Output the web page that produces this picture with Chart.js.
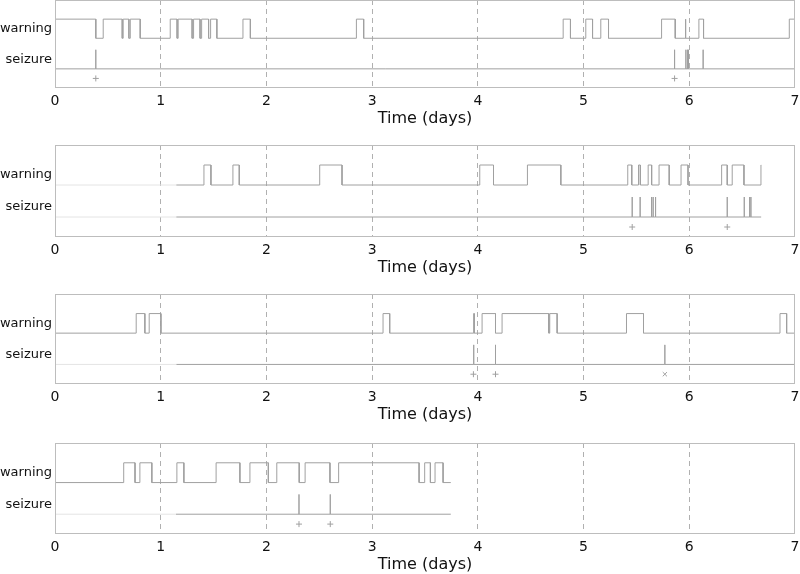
<!DOCTYPE html>
<html>
<head>
<meta charset="utf-8">
<script src="https://cdn.jsdelivr.net/npm/chart.js@4.4.4/dist/chart.umd.min.js"></script>
<style>
  html, body { margin: 0; padding: 0; background: #fff; }
  #quadro { position: relative; width: 800px; height: 574px; overflow: hidden; }
  .painel { position: absolute; left: 0; width: 800px; }
</style>
</head>
<body>
<div id="quadro">
  <div class="painel" id="painel1"><canvas id="g1"></canvas></div>
  <div class="painel" id="painel2"><canvas id="g2"></canvas></div>
  <div class="painel" id="painel3"><canvas id="g3"></canvas></div>
  <div class="painel" id="painel4"><canvas id="g4"></canvas></div>
</div>
<script>
/* ── Dados (dias) ── */
const DIAS_MIN = 0;
const DIAS_MAX = 7;
const ROTULOS_Y = ['seizure', 'warning'];
const TITULO_X = 'Time (days)';

/* níveis em y de cada linha */
const NIVEL_CRISE = 0;
const NIVEL_PICO = 1;
const NIVEL_AVISO_BAIXO = 1.6;
const NIVEL_AVISO_ALTO = 2.6;
const NIVEL_MARCA = -0.5;
const TICKS_Y = [0.5, 2.1];

/* painel 1 */
const p1Inicio = 0;
const p1Fim = 7;
const p1Aviso = [[0, 0.386], [0.456, 0.636], [0.645, 0.699], [0.712, 0.806], [1.090, 1.155], [1.165, 1.297],
                 [1.311, 1.372], [1.387, 1.453], [1.472, 1.531], [1.778, 1.848], [2.851, 2.920], [4.807, 4.876],
                 [5.021, 5.085], [5.163, 5.236], [5.738, 5.867], [5.961, 5.968], [6.091, 6.135], [6.946, 7]];
const p1Crises = [0.386, 5.861, 5.968, 5.983, 5.992, 6.131];
const p1Marcas = [0.386, 5.861];

/* painel 2 */
const p2Inicio = 1.147;
const p2Fim = 6.68;
const p2Aviso = [[1.409, 1.475], [1.683, 1.743], [2.504, 2.715], [4.018, 4.148], [4.469, 4.785], [5.418, 5.456],
                 [5.520, 5.537], [5.611, 5.644], [5.714, 5.810], [5.922, 5.988], [6.306, 6.359], [6.406, 6.517],
                 [6.678, 6.68]];
const p2Crises = [5.460, 5.535, 5.643, 5.658, 5.681, 6.359, 6.520, 6.571, 6.583];
const p2Marcas = [5.460, 6.359];

/* painel 3 */
const p3Inicio = 1.147;
const p3Fim = 7;
const p3AvisoInicio = 0;
const p3Aviso = [[0.768, 0.850], [0.891, 1.002], [3.103, 3.166], [3.961, 3.966], [4.040, 4.167], [4.229, 4.671],
                 [4.680, 4.750], [5.406, 5.567], [6.858, 6.921]];
const p3Crises = [3.961, 4.167, 5.769];
const p3Marcas = [3.958, 4.167];
const p3MarcasX = [5.769];

/* painel 4 */
const p4Inicio = 1.144;
const p4Fim = 3.744;
const p4AvisoInicio = 0;
const p4Aviso = [[0.650, 0.757], [0.803, 0.916], [1.153, 1.219], [1.524, 1.749], [1.844, 2.018], [2.098, 2.310],
                 [2.366, 2.601], [2.683, 3.444], [3.497, 3.551], [3.595, 3.671]];
const p4Crises = [2.308, 2.604];
const p4Marcas = [2.308, 2.604];

/* ── Aparência ── */
const COR_LINHA = '#a0a0a0';
const COR_FRACA = '#e4e4e4';
const COR_MOLDURA = '#bdbdbd';
const COR_GRADE = '#b0b0b0';
const COR_TEXTO = '#111';
const FONTE = "'DejaVu Sans', Verdana, sans-serif";

/* ── Monta os pontos da linha de aviso (degraus) ── */
function pontosAviso(intervalos, ini, fim) {
  const pts = [];
  if (!intervalos.length || intervalos[0][0] > ini) pts.push({ x: ini, y: NIVEL_AVISO_BAIXO });
  intervalos.forEach(function (iv) {
    if (iv[0] > ini) pts.push({ x: iv[0], y: NIVEL_AVISO_BAIXO });
    pts.push({ x: iv[0], y: NIVEL_AVISO_ALTO });
    pts.push({ x: iv[1], y: NIVEL_AVISO_ALTO });
    if (iv[1] < fim) pts.push({ x: iv[1], y: NIVEL_AVISO_BAIXO });
  });
  if (pts[pts.length - 1].x < fim) pts.push({ x: fim, y: NIVEL_AVISO_BAIXO });
  return pts;
}

/* ── Linha de base das crises com os traços verticais ── */
function pontosCrise(crises, ini, fim) {
  const pts = [{ x: ini, y: NIVEL_CRISE }];
  crises.forEach(function (t) {
    pts.push({ x: t, y: NIVEL_CRISE }, { x: t, y: NIVEL_PICO }, { x: t, y: NIVEL_CRISE });
  });
  pts.push({ x: fim, y: NIVEL_CRISE });
  return pts;
}

function linha(dados, cor) {
  return { data: dados, borderColor: cor, borderWidth: 1, pointRadius: 0, tension: 0, fill: false };
}

function marcas(xs, estilo) {
  return {
    type: 'scatter',
    data: xs.map(function (t) { return { x: t, y: NIVEL_MARCA }; }),
    pointStyle: estilo, pointRadius: 3, borderWidth: 1,
    borderColor: COR_LINHA, backgroundColor: COR_LINHA, showLine: false
  };
}

/* moldura em volta da área do gráfico */
const moldura = {
  id: 'moldura',
  afterDraw: function (chart) {
    const a = chart.chartArea;
    const ctx = chart.ctx;
    ctx.save();
    ctx.strokeStyle = COR_MOLDURA;
    ctx.lineWidth = 1;
    ctx.strokeRect(Math.round(a.left) + 0.5, Math.round(a.top) + 0.5,
                   Math.round(a.right - a.left) - 1, Math.round(a.bottom - a.top) - 1);
    ctx.restore();
  }
};

function criarPainel(idCanvas, idDiv, topo, padTopo, alturaPlot, datasets) {
  const ALT_EIXO = 42;
  const div = document.getElementById(idDiv);
  div.style.top = topo + 'px';
  const canvas = document.getElementById(idCanvas);
  canvas.width = 800;
  canvas.height = padTopo + alturaPlot + ALT_EIXO;

  return new Chart(canvas.getContext('2d'), {
    type: 'line',
    data: { datasets: datasets },
    plugins: [moldura],
    options: {
      responsive: false,
      animation: false,
      layout: { autoPadding: false, padding: { top: padTopo, right: 5, bottom: 0, left: 0 } },
      plugins: { legend: { display: false }, tooltip: { enabled: false } },
      scales: {
        x: {
          type: 'linear', min: DIAS_MIN, max: DIAS_MAX,
          afterFit: function (s) { s.height = ALT_EIXO; s.paddingLeft = 0; s.paddingRight = 0; },
          border: { display: false, dash: [5, 4] },
          grid: {
            drawTicks: false,
            color: function (c) {
              const v = c.tick ? c.tick.value : null;
              return (v === DIAS_MIN || v === DIAS_MAX) ? 'rgba(0,0,0,0)' : COR_GRADE;
            }
          },
          ticks: { stepSize: 1, padding: 5, color: COR_TEXTO, font: { family: FONTE, size: 14 }, maxRotation: 0 },
          title: { display: true, text: TITULO_X, color: COR_TEXTO, font: { family: FONTE, size: 16 }, padding: { top: 0, bottom: 2 } }
        },
        y: {
          min: -1, max: 3.6,
          afterFit: function (s) { s.width = 55; s.paddingTop = 0; s.paddingBottom = 0; },
          afterBuildTicks: function (s) { s.ticks = TICKS_Y.map(function (v) { return { value: v }; }); },
          border: { display: false },
          grid: { display: false, drawTicks: false },
          ticks: {
            padding: 3, color: COR_TEXTO, font: { family: FONTE, size: 13 },
            callback: function (v) { return ROTULOS_Y[TICKS_Y.indexOf(v)]; }
          }
        }
      }
    }
  });
}

/* painel 1 */
criarPainel('g1', 'painel1', 0, 0, 88, [
  linha(pontosAviso(p1Aviso, p1Inicio, p1Fim), COR_LINHA),
  linha(pontosCrise(p1Crises, p1Inicio, p1Fim), COR_LINHA),
  marcas(p1Marcas, 'cross')
]);

/* painel 2 */
criarPainel('g2', 'painel2', 140, 5, 92, [
  linha([{ x: 0, y: NIVEL_AVISO_BAIXO }, { x: p2Inicio, y: NIVEL_AVISO_BAIXO }], COR_FRACA),
  linha([{ x: 0, y: NIVEL_CRISE }, { x: p2Inicio, y: NIVEL_CRISE }], COR_FRACA),
  linha(pontosAviso(p2Aviso, p2Inicio, p2Fim), COR_LINHA),
  linha(pontosCrise(p2Crises, p2Inicio, p2Fim), COR_LINHA),
  marcas(p2Marcas, 'cross')
]);

/* painel 3 */
criarPainel('g3', 'painel3', 290, 4, 90, [
  linha([{ x: 0, y: NIVEL_CRISE }, { x: p3Inicio, y: NIVEL_CRISE }], COR_FRACA),
  linha(pontosAviso(p3Aviso, p3AvisoInicio, p3Fim), COR_LINHA),
  linha(pontosCrise(p3Crises, p3Inicio, p3Fim), COR_LINHA),
  marcas(p3Marcas, 'cross'),
  marcas(p3MarcasX, 'crossRot')
]);

/* painel 4 */
criarPainel('g4', 'painel4', 438, 5, 91, [
  linha([{ x: 0, y: NIVEL_CRISE }, { x: p4Inicio, y: NIVEL_CRISE }], COR_FRACA),
  linha(pontosAviso(p4Aviso, p4AvisoInicio, p4Fim), COR_LINHA),
  linha(pontosCrise(p4Crises, p4Inicio, p4Fim), COR_LINHA),
  marcas(p4Marcas, 'cross')
]);
</script>
</body>
</html>
